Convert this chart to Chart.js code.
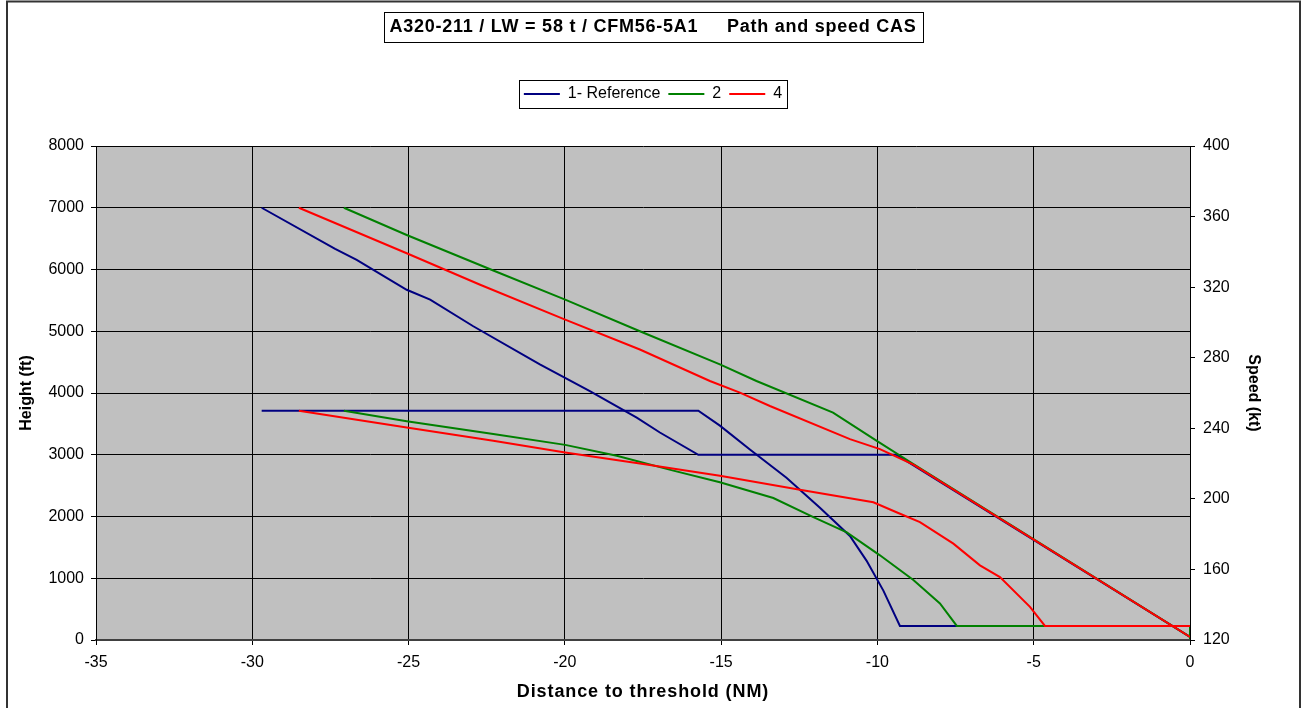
<!DOCTYPE html>
<html lang="en">
<head>
    <meta charset="UTF-8">
    <title>A320-211 Path and speed CAS</title>
    <script src="https://cdn.jsdelivr.net/npm/chart.js"></script>
    <style>
        html, body { margin: 0; padding: 0; background: #fff; }
        #wrap { width: 1306px; height: 708px; }
    </style>
</head>
<body>
    <div id="wrap"><canvas id="chart" width="1306" height="708"></canvas></div>
    <script>
        // Height profiles (ft) against distance to threshold (NM)
        const refDist     = [-29.7, -27.35, -26.66, -25.06, -24.31, -22.93, -20.8, -19.2, -17.7, -16.96, -15.73, -9.4, 0];
        const refHeight   = [7000, 6334, 6156, 5672, 5511, 5081, 4463, 4032, 3602, 3360, 3000, 3000, 50];
        const grnDist     = [-27.07, -25.06, -22.29, -19.99, -17.6, -15.04, -13.87, -11.42, -10.02, -8.85, 0];
        const grnHeight   = [7000, 6559, 5984, 5511, 5000, 4463, 4194, 3682, 3226, 2850, 50];
        const redDist     = [-28.51, -25.06, -22.71, -19.99, -17.6, -15.36, -14.4, -13.44, -10.88, -9.92, -8.85, 0];
        const redHeight   = [7000, 6263, 5753, 5188, 4705, 4194, 4005, 3790, 3253, 3091, 2840, 50];

        // Speed profiles (kt CAS)
        const refSpdDist  = [-29.7, -15.73, -15.04, -14.08, -12.91, -11.84, -10.88, -10.35, -9.81, -9.28, 0];
        const refSpeed    = [250, 250, 241.5, 228, 212, 195, 179, 165, 148, 128, 128];
        const grnSpdDist  = [-27.07, -25.06, -22.29, -19.99, -18.34, -16.53, -15.04, -13.33, -12.05, -10.98, -9.92, -8.85, -8.0, -7.46, 0, 0];
        const grnSpeed    = [250, 244, 236.7, 230.6, 224.4, 216, 209.4, 200.5, 189.6, 181, 168, 154, 140.7, 128, 128, 120.5];
        const redSpdDist  = [-28.51, -25.06, -22.29, -19.99, -17.6, -15.04, -12.48, -10.13, -9.39, -8.64, -7.57, -6.72, -6.08, -5.12, -4.64, 0];
        const redSpeed    = [250, 240.4, 232.9, 226.3, 220.1, 213.1, 205.1, 198.1, 192.4, 186.8, 174.6, 162.3, 155.7, 138.8, 128, 128];

        const seriesNames = ['1- Reference', '2', '4'];
        const titleText = 'A320-211 / LW = 58 t / CFM56-5A1     Path and speed CAS';

        const FONT = '"Liberation Sans", Arial, sans-serif';
        const TITLE_SPACING = '0.75px';
        const XTITLE_SPACING = '0.9px';

        function pts(xs, ys) {
            return xs.map((x, i) => ({ x: x, y: ys[i] }));
        }

        function series(label, xs, ys, color, axis, order) {
            return {
                label: label,
                data: pts(xs, ys),
                yAxisID: axis,
                borderColor: color,
                backgroundColor: color,
                borderWidth: 2,
                pointRadius: 0,
                pointStyle: 'line',
                tension: 0,
                order: order
            };
        }

        // wrap a draw function so its text gets a bit of letter spacing (the original is stretched)
        function withSpacing(obj, fnName, spacing) {
            if (!obj || obj['_spaced_' + fnName]) return;
            const orig = obj[fnName];
            obj[fnName] = function () {
                const c = this.ctx;
                c.save();
                c.letterSpacing = spacing;
                orig.apply(this, arguments);
                c.restore();
            };
            obj['_spaced_' + fnName] = true;
        }

        // grey plot area, white page, outer frame, boxes round title and legend
        const decorations = {
            id: 'decorations',
            afterLayout(chart) {
                withSpacing(chart.titleBlock, 'draw', TITLE_SPACING);
                withSpacing(chart.scales.x, 'drawTitle', XTITLE_SPACING);
            },
            beforeDraw(chart) {
                const ctx = chart.ctx;
                const a = chart.chartArea;
                ctx.save();
                ctx.fillStyle = '#fff';
                ctx.fillRect(0, 0, chart.width, chart.height);
                ctx.fillStyle = '#C0C0C0';
                ctx.fillRect(a.left, a.top, a.right - a.left, a.bottom - a.top);
                ctx.restore();
            },
            afterDraw(chart) {
                const ctx = chart.ctx;
                ctx.save();
                // outer frame
                ctx.strokeStyle = '#333';
                ctx.lineWidth = 2;
                ctx.strokeRect(7, 1.5, 1293, 720);

                // title box
                ctx.font = 'bold 18px ' + FONT;
                ctx.letterSpacing = TITLE_SPACING;
                const w = ctx.measureText(titleText).width;
                ctx.letterSpacing = '0px';
                const cx = (chart.titleBlock.left + chart.titleBlock.right) / 2;
                ctx.strokeStyle = '#000';
                ctx.lineWidth = 1;
                ctx.strokeRect(Math.round(cx - w / 2 - 6) + 0.5, 12.5, Math.round(w + 12), 30);

                // legend box
                const hb = chart.legend.legendHitBoxes;
                if (hb && hb.length) {
                    let l = Infinity, r = -Infinity, t = Infinity, b = -Infinity;
                    hb.forEach(h => {
                        l = Math.min(l, h.left); r = Math.max(r, h.left + h.width);
                        t = Math.min(t, h.top); b = Math.max(b, h.top + h.height);
                    });
                    ctx.strokeRect(Math.round(l - 5) + 0.5, Math.round(t - 6) + 0.5, Math.round(r - l + 10), Math.round(b - t + 12));
                }
                ctx.restore();
            }
        };

        const ctx = document.getElementById('chart').getContext('2d');
        const chart = new Chart(ctx, {
            type: 'line',
            data: {
                datasets: [
                    series(seriesNames[0], refDist, refHeight, '#000080', 'y', 2),
                    series(seriesNames[1], grnDist, grnHeight, '#008000', 'y', 1),
                    series(seriesNames[2], redDist, redHeight, '#FF0000', 'y', 0),
                    series(seriesNames[0], refSpdDist, refSpeed, '#000080', 'y1', 2),
                    series(seriesNames[1], grnSpdDist, grnSpeed, '#008000', 'y1', 1),
                    series(seriesNames[2], redSpdDist, redSpeed, '#FF0000', 'y1', 0)
                ]
            },
            options: {
                responsive: false,
                animation: false,
                devicePixelRatio: 1,
                layout: { padding: 0 },
                plugins: {
                    title: {
                        display: true,
                        text: titleText,
                        color: '#000',
                        align: 'center',
                        font: { family: FONT, size: 18, weight: 'bold' },
                        padding: { top: 16.2, bottom: 40.2 }
                    },
                    legend: {
                        display: true,
                        position: 'top',
                        labels: {
                            color: '#000',
                            font: { family: FONT, size: 16 },
                            usePointStyle: true,
                            pointStyleWidth: 36,
                            padding: 8,
                            filter: item => item.datasetIndex < 3,
                            sort: (a, b) => a.datasetIndex - b.datasetIndex
                        }
                    },
                    // empty spacer between the legend and the plot area
                    subtitle: {
                        display: true,
                        text: ' ',
                        weight: 500,
                        font: { size: 1 },
                        padding: { top: 0, bottom: 32.8 }
                    },
                    tooltip: { enabled: false }
                },
                scales: {
                    x: {
                        type: 'linear',
                        min: -35,
                        max: 0,
                        ticks: { stepSize: 5, color: '#000', font: { family: FONT, size: 16 }, padding: 8 },
                        grid: { color: '#000', lineWidth: 1, tickLength: 5 },
                        border: { color: '#404040', width: 2 },
                        title: {
                            display: true,
                            text: 'Distance to threshold (NM)',
                            color: '#000',
                            font: { family: FONT, size: 18, weight: 'bold' },
                            padding: { top: 0, bottom: 5.5 }
                        },
                        afterFit(s) { s.height = 68; }
                    },
                    y: {
                        position: 'left',
                        min: 0,
                        max: 8000,
                        ticks: { stepSize: 1000, color: '#000', font: { family: FONT, size: 16 }, padding: 7, callback: v => String(v) },
                        grid: { color: '#000', lineWidth: 1, tickLength: 5 },
                        border: { color: '#000', width: 1 },
                        title: {
                            display: true,
                            text: 'Height (ft)',
                            color: '#000',
                            font: { family: FONT, size: 16, weight: 'bold' },
                            padding: { top: 16.5, bottom: 0 }
                        },
                        afterFit(s) { s.width = 96; }
                    },
                    y1: {
                        position: 'right',
                        min: 120,
                        max: 400,
                        ticks: { stepSize: 40, color: '#000', font: { family: FONT, size: 16 }, padding: 8, callback: v => String(v) },
                        grid: { drawOnChartArea: false, color: '#000', lineWidth: 1, tickLength: 5 },
                        border: { color: '#000', width: 1 },
                        title: {
                            display: true,
                            text: 'Speed (kt)',
                            color: '#000',
                            font: { family: FONT, size: 16, weight: 'bold' },
                            padding: { top: 43.4, bottom: 0 }
                        },
                        afterFit(s) { s.width = 116; }
                    }
                }
            },
            plugins: [decorations]
        });
    </script>
</body>
</html>
